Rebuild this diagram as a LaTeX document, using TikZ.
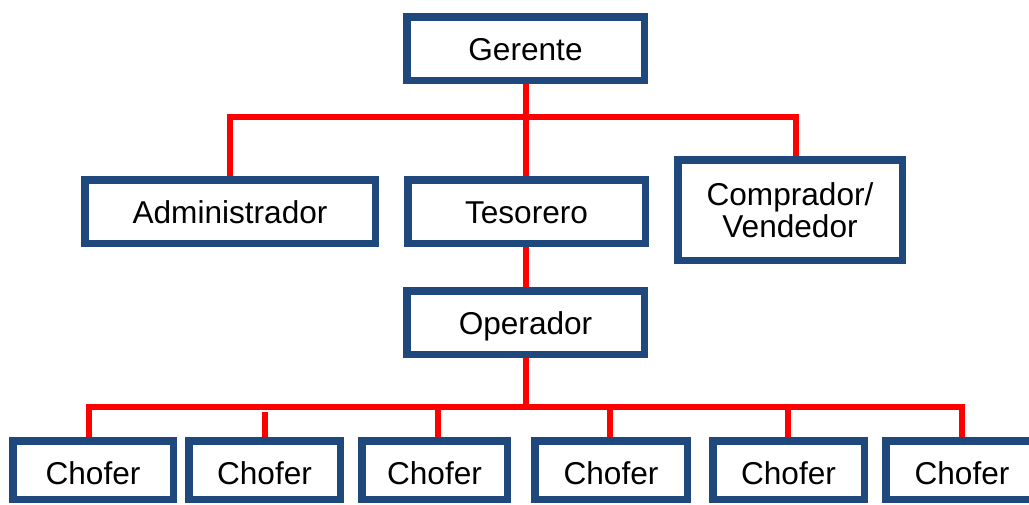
\documentclass[tikz,border=0pt]{standalone}
\usepackage{fontspec}
\setmainfont{Liberation Sans}
\definecolor{boxblue}{RGB}{31,73,125}
\begin{document}
\begin{tikzpicture}[x=1pt,y=-1pt,
  orgbox/.style={draw=boxblue, line width=7.5pt, fill=white, rectangle, inner sep=0pt,
    minimum height=63.5pt, font=\fontsize{31.6}{32.5}\selectfont, text height=24pt, text depth=0pt},
  chofbox/.style={orgbox, minimum height=58.5pt, text height=28pt},
  twoline/.style={draw=boxblue, line width=7.5pt, fill=white, rectangle, inner sep=0pt,
    align=center, font=\fontsize{31.6}{32.5}\selectfont},
  link/.style={draw=red, line width=5.5pt, line join=miter}]
\useasboundingbox (0,0) rectangle (1029,504);
\clip (0,0) rectangle (1029,504);
% boxes
\node[orgbox, minimum width=237.5pt] (ger) at (525.5,48.5) {Gerente};
\node[orgbox, minimum width=290.5pt] (adm) at (230,211.5) {Administrador};
\node[orgbox, minimum width=237.5pt] (tes) at (526.5,211.5) {Tesorero};
\node[twoline, minimum width=224.5pt, minimum height=100.5pt] (com) at (790,210) {Comprador/\\Vendedor};
\node[orgbox, minimum width=237.5pt] (ope) at (525.5,322.5) {Operador};
\node[chofbox, minimum width=160.5pt] (ch1) at (93,470) {Chofer};
\node[chofbox, minimum width=151.5pt] (ch2) at (264.5,470) {Chofer};
\node[chofbox, minimum width=145.5pt] (ch3) at (434.5,470) {Chofer};
\node[chofbox, minimum width=152.5pt] (ch4) at (611,470) {Chofer};
\node[chofbox, minimum width=151.5pt] (ch5) at (788.5,470) {Chofer};
\node[chofbox, minimum width=152.5pt] (ch6) at (962,470) {Chofer};
% connector coordinates
\coordinate (topL) at (230,117);
\coordinate (topR) at (796,117);
\coordinate (busL) at (89,407);
\coordinate (busR) at (962,407);
\coordinate (busM) at (526,407);
\coordinate (b2) at (265,412);
\coordinate (b3) at (438,407);
\coordinate (b4) at (610,407);
\coordinate (b5) at (788,407);
% connectors
\draw[link] (adm.north) -- (topL) -- (topR) -- (topR |- com.north);
\draw[link] (ger.south -| busM) -- (tes.north -| busM);
\draw[link] (tes.south -| busM) -- (ope.north -| busM);
\draw[link] (ope.south -| busM) -- (busM);
\draw[link] (busL |- ch1.north) -- (busL) -- (busR) -- (busR |- ch6.north);
\draw[link] (b2) -- (b2 |- ch2.north);
\draw[link] (b3) -- (b3 |- ch3.north);
\draw[link] (b4) -- (b4 |- ch4.north);
\draw[link] (b5) -- (b5 |- ch5.north);
\end{tikzpicture}
\end{document}
